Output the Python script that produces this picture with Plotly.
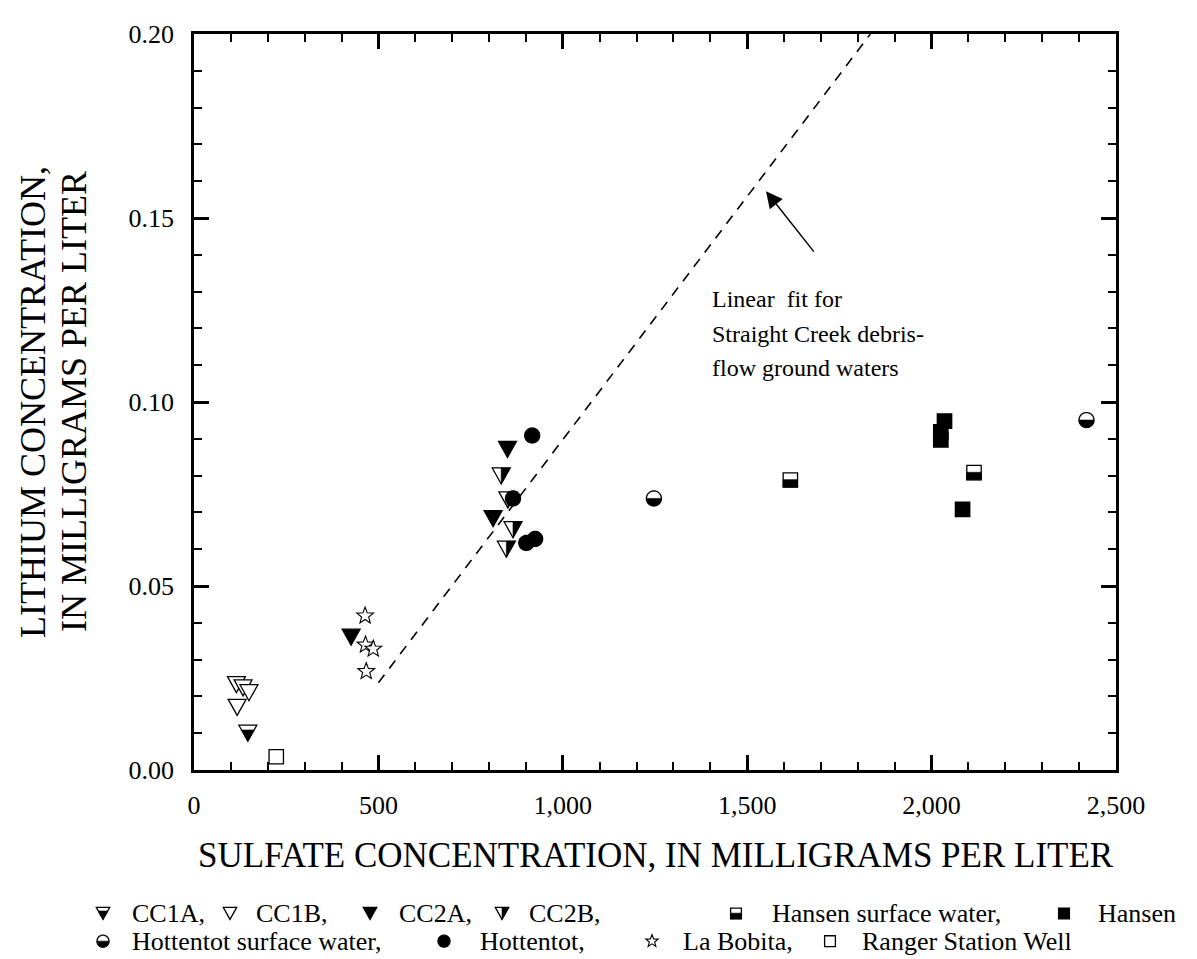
import math
import plotly.graph_objects as go

# ---------------- data ----------------
cc1a_x = [146]
cc1a_y = [0.0100]
cc1b_x = [115, 133, 149, 117]
cc1b_y = [0.0232, 0.0223, 0.0210, 0.0170]
cc2a_x = [426, 811, 850]
cc2a_y = [0.0361, 0.0683, 0.0871]
cc2b_x = [833, 851, 865, 847]
cc2b_y = [0.0799, 0.0734, 0.0653, 0.0600]
hansen_sw_x = [1617, 2115]
hansen_sw_y = [0.0788, 0.0808]
hansen_x = [2035, 2025, 2025, 2084]
hansen_y = [0.0948, 0.0919, 0.0897, 0.0708]
hott_sw_x = [1247, 2420]
hott_sw_y = [0.0738, 0.0951]
hott_x = [917, 865, 901, 925]
hott_y = [0.0909, 0.0738, 0.0617, 0.0628]
bobita_x = [464, 465, 486, 467]
bobita_y = [0.0419, 0.0340, 0.0329, 0.0268]
ranger_x = [223]
ranger_y = [0.0036]
fit_x = [500, 1834]
fit_y = [0.0237, 0.2]

x_tick_vals = [0, 500, 1000, 1500, 2000, 2500]
x_tick_text = ["0", "500", "1,000", "1,500", "2,000", "2,500"]
y_tick_vals = [0.00, 0.05, 0.10, 0.15, 0.20]
y_tick_text = ["0.00", "0.05", "0.10", "0.15", "0.20"]

FONT = "Liberation Serif"

# ---------------- figure geometry ----------------
W, H = 1197, 959
ML, MR, MT, MB = 186, 1197 - 1108, 18, 959 - 762
PW, PH = W - ML - MR, H - MT - MB


def px_x(px):
    return (px - ML) / PW


def px_y(py):
    return (H - MB - py) / PH


# ---------------- marker path helpers (pixel units, y up) ----------------
def poly(pts):
    return "M" + " L".join(f"{x:.2f},{y:.2f}" for x, y in pts) + " Z"


def tri_pts(w, h):
    return [(-w / 2, h / 2), (w / 2, h / 2), (0, -h / 2)]


def circle_pts(r, a0=0.0, a1=2 * math.pi, n=48):
    return [(r * math.cos(a0 + (a1 - a0) * i / n), r * math.sin(a0 + (a1 - a0) * i / n)) for i in range(n + 1)]


def star_pts(r):
    ri = r * 0.42
    pts = []
    for i in range(10):
        a = math.pi / 2 + i * math.pi / 5
        rr = r if i % 2 == 0 else ri
        pts.append((rr * math.cos(a), rr * math.sin(a)))
    return pts


def rect_pts(x0, y0, x1, y1):
    return [(x0, y0), (x1, y0), (x1, y1), (x0, y1)]


def glyph_paths(style, s):
    """list of (path, fill, linewidth) for one marker of nominal size s"""
    lw = 1.3
    w, h = s * 1.12, s
    out = []
    if style == "cc1b":
        out.append((poly(tri_pts(w, h)), "white", lw))
    elif style == "cc2a":
        out.append((poly(tri_pts(w, h)), "black", lw))
    elif style == "cc1a":
        out.append((poly(tri_pts(w, h)), "white", lw))
        yb = h / 2 - 0.3 * h
        hw = (w / 2) * (yb + h / 2) / h
        out.append((poly([(-hw, yb), (hw, yb), (0, -h / 2)]), "black", 0.6))
    elif style == "cc2b":
        out.append((poly(tri_pts(w, h)), "white", lw))
        out.append((poly([(0, h / 2), (w / 2, h / 2), (0, -h / 2)]), "black", 0.6))
    elif style == "hansen":
        a = s * 0.45
        out.append((poly(rect_pts(-a, -a, a, a)), "black", lw))
    elif style == "hansen_sw":
        a = s * 0.45
        out.append((poly(rect_pts(-a, -a, a, a)), "white", lw))
        out.append((poly(rect_pts(-a, -a, a, 0.05 * a)), "black", 0.6))
    elif style == "ranger":
        a = s * 0.45
        out.append((poly(rect_pts(-a, -a, a, a)), "white", lw))
    elif style == "hott":
        out.append((poly(circle_pts(s * 0.5)), "black", lw))
    elif style == "hott_sw":
        r = s * 0.5
        out.append((poly(circle_pts(r)), "white", lw))
        out.append((poly(circle_pts(r, math.pi, 2 * math.pi)), "black", 0.6))
    elif style == "bobita":
        out.append((poly(star_pts(s * 0.55)), "white", 1.1))
    return out


def marker_shapes(style, xs, ys, s, xref="x", yref="y", layer="above"):
    shapes = []
    for x, y in zip(xs, ys):
        for path, fill, lw in glyph_paths(style, s):
            shapes.append(dict(type="path", path=path, xref=xref, yref=yref,
                               xsizemode="pixel", ysizemode="pixel",
                               xanchor=x, yanchor=y, fillcolor=fill,
                               line=dict(color="black", width=lw), layer=layer))
    return shapes


fig = go.Figure()

# dashed linear fit
fig.add_trace(go.Scatter(x=fit_x, y=fit_y, mode="lines",
                         line=dict(color="black", width=1.6, dash="10px,8px"),
                         showlegend=False, hoverinfo="skip"))

series = [
    ("cc1a", cc1a_x, cc1a_y, "CC1A"),
    ("cc1b", cc1b_x, cc1b_y, "CC1B"),
    ("cc2a", cc2a_x, cc2a_y, "CC2A"),
    ("cc2b", cc2b_x, cc2b_y, "CC2B"),
    ("hansen_sw", hansen_sw_x, hansen_sw_y, "Hansen surface water"),
    ("hansen", hansen_x, hansen_y, "Hansen"),
    ("hott_sw", hott_sw_x, hott_sw_y, "Hottentot surface water"),
    ("hott", hott_x, hott_y, "Hottentot"),
    ("bobita", bobita_x, bobita_y, "La Bobita"),
    ("ranger", ranger_x, ranger_y, "Ranger Station Well"),
]

# hover carriers for each series (glyphs are drawn as shapes anchored at the data)
for style, xs, ys, name in series:
    fig.add_trace(go.Scatter(x=xs, y=ys, mode="markers", name=name,
                             marker=dict(size=14, opacity=0), showlegend=False))

shapes = []
sizes = {"cc1a": 16, "cc1b": 16, "cc2a": 16, "cc2b": 16, "hansen_sw": 16, "hansen": 16,
         "hott_sw": 15, "hott": 15, "bobita": 16, "ranger": 16}
for style, xs, ys, name in series:
    if style.startswith("cc"):
        shapes += marker_shapes(style, xs, ys, sizes[style])
for style, xs, ys, name in series:
    if not style.startswith("cc"):
        shapes += marker_shapes(style, xs, ys, sizes[style])

annotations = []
LEG_FONT = 26
legend_rows = [
    (907, [(95, 122, "cc1a", "CC1A,"), (222, 246, "cc1b", "CC1B,"), (362, 389, "cc2a", "CC2A,"),
           (494, 519, "cc2b", "CC2B,"), (728, 762, "hansen_sw", "Hansen surface water,"),
           (1056, 1088, "hansen", "Hansen")]),
    (935, [(95, 122, "hott_sw", "Hottentot surface water,"), (436, 470, "hott", "Hottentot,"),
           (644, 673, "bobita", "La Bobita,"), (822, 852, "ranger", "Ranger Station Well")]),
]
for py, items in legend_rows:
    for mpx, tpx, style, label in items:
        shapes += marker_shapes(style, [px_x(mpx)], [px_y(py)], 12, xref="paper", yref="paper")
        annotations.append(dict(x=px_x(tpx), y=px_y(py), xref="paper", yref="paper",
                                text=label, showarrow=False, xanchor="left", yanchor="middle",
                                font=dict(family=FONT, size=LEG_FONT, color="black")))

# axis titles
annotations.append(dict(x=px_x(648), y=px_y(848), xref="paper", yref="paper",
                        text="SULFATE CONCENTRATION, IN MILLIGRAMS PER LITER", showarrow=False,
                        xanchor="center", yanchor="middle",
                        font=dict(family=FONT, size=35, color="black")))
for xpx, t in [(25, "LITHIUM CONCENTRATION,"), (66, "IN MILLIGRAMS PER LITER")]:
    annotations.append(dict(x=px_x(xpx), y=px_y(390), xref="paper", yref="paper",
                            text=t, showarrow=False, textangle=-90,
                            xanchor="center", yanchor="middle",
                            font=dict(family=FONT, size=36, color="black")))

# fit note and arrow
note_lines = ["Linear  fit for", "Straight Creek debris-", "flow ground waters"]
for i, t in enumerate(note_lines):
    annotations.append(dict(x=px_x(702), y=px_y(286 + 35 * i), xref="paper", yref="paper",
                            text=t, showarrow=False, xanchor="left", yanchor="middle",
                            font=dict(family=FONT, size=24, color="black")))
annotations.append(dict(x=1551, y=0.1573, xref="x", yref="y", ax=49, ay=62, text="",
                        showarrow=True, arrowhead=2, arrowsize=2.2, arrowwidth=1.5,
                        arrowcolor="black"))

axis_common = dict(showline=True, linecolor="black", linewidth=2.5, mirror="allticks",
                   ticks="inside", ticklen=15, tickwidth=2.5, tickcolor="black",
                   showgrid=False, zeroline=False,
                   tickfont=dict(family=FONT, size=26, color="black"))

fig.update_layout(
    width=W, height=H,
    margin=dict(l=ML, r=MR, t=MT, b=MB),
    paper_bgcolor="white", plot_bgcolor="white",
    showlegend=False,
    xaxis=dict(range=[0, 2500], tickvals=x_tick_vals, ticktext=x_tick_text,
               minor=dict(dtick=100, ticks="inside", ticklen=8, tickwidth=2, tickcolor="black"),
               ticklabelstandoff=10, **axis_common),
    yaxis=dict(range=[0, 0.2], tickvals=y_tick_vals, ticktext=y_tick_text,
               minor=dict(dtick=0.01, ticks="inside", ticklen=8, tickwidth=2, tickcolor="black"),
               ticklabelstandoff=12, **axis_common),
    shapes=shapes,
    annotations=annotations,
)

fig.write_html("out.html")
